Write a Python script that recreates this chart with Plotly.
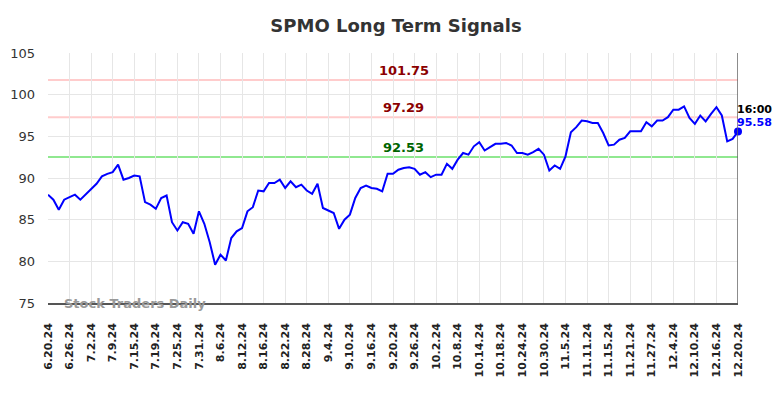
import plotly.graph_objects as go

tick_labels = ["6.20.24", "6.26.24", "7.2.24", "7.9.24", "7.15.24", "7.19.24", "7.25.24", "7.31.24",
               "8.6.24", "8.12.24", "8.16.24", "8.22.24", "8.28.24", "9.4.24", "9.10.24", "9.16.24",
               "9.20.24", "9.26.24", "10.2.24", "10.8.24", "10.14.24", "10.18.24", "10.24.24", "10.30.24",
               "11.5.24", "11.11.24", "11.15.24", "11.21.24", "11.27.24", "12.4.24", "12.10.24", "12.16.24",
               "12.20.24"]

prices = [88.0, 87.4, 86.2, 87.4, 87.7, 88.0, 87.4, 88.0, 88.6, 89.3,
          90.2, 90.5, 90.7, 91.6, 89.8, 90.0, 90.3, 90.2, 87.1, 86.8,
          86.3, 87.6, 87.9, 84.7, 83.7, 84.7, 84.5, 83.3, 86.0, 84.5,
          82.3, 79.6, 80.8, 80.1, 82.8, 83.6, 84.0, 86.0, 86.5, 88.5,
          88.4, 89.4, 89.4, 89.8, 88.8, 89.6, 88.9, 89.2, 88.5, 88.1,
          89.3, 86.4, 86.1, 85.8, 83.9, 85.0, 85.6, 87.6, 88.8, 89.1,
          88.8, 88.7, 88.4, 90.5, 90.5, 91.0, 91.2, 91.3, 91.1, 90.4,
          90.7, 90.1, 90.4, 90.4, 91.7, 91.1, 92.2, 93.0, 92.8, 93.8,
          94.3, 93.3, 93.7, 94.1, 94.1, 94.2, 93.9, 93.0, 93.0, 92.8,
          93.1, 93.5, 92.8, 90.9, 91.5, 91.1, 92.6, 95.5, 96.1, 96.9,
          96.8, 96.6, 96.6, 95.4, 93.9, 94.0, 94.6, 94.8, 95.6, 95.6,
          95.6, 96.7, 96.2, 96.9, 96.9, 97.3, 98.2, 98.2, 98.6, 97.2,
          96.5, 97.5, 96.8, 97.7, 98.5, 97.5, 94.4, 94.7, 95.58]

levels = [101.75, 97.29, 92.53]
level_line_colors = ["#ffcccc", "#ffcccc", "#90e890"]
level_text_colors = ["#8b0000", "#8b0000", "#006400"]
last_time = "16:00"

x = list(range(len(prices)))
tickvals = list(range(0, len(prices), 4))

fig = go.Figure()

for lv, lc in zip(levels, level_line_colors):
    fig.add_shape(type="line", xref="paper", x0=0, x1=1, yref="y", y0=lv, y1=lv,
                  line=dict(color=lc, width=2), layer="below")

fig.add_trace(go.Scatter(x=x, y=prices, mode="lines",
                         line=dict(color="#0000ff", width=2), hoverinfo="skip"))
fig.add_trace(go.Scatter(x=[x[-1]], y=[prices[-1]], mode="markers", cliponaxis=False,
                         marker=dict(color="#0000ff", size=8), hoverinfo="skip"))

for lv, tc in zip(levels, level_text_colors):
    fig.add_annotation(x=66, y=lv, text=f"<b>{lv:.2f}</b>", showarrow=False,
                       yanchor="bottom", yshift=0,
                       font=dict(color=tc, size=13, family="DejaVu Sans"))

fig.add_annotation(x=x[-1], y=prices[-1], text=f"<b>{last_time}</b>", showarrow=False,
                   xanchor="left", yanchor="bottom", xshift=-3, yshift=14,
                   font=dict(color="black", size=11, family="DejaVu Sans"))
fig.add_annotation(x=x[-1], y=prices[-1], text=f"<b>{prices[-1]:.2f}</b>", showarrow=False,
                   xanchor="left", yanchor="bottom", xshift=-3, yshift=1,
                   font=dict(color="#0000ff", size=11, family="DejaVu Sans"))

fig.add_shape(type="line", xref="x", x0=x[-1], x1=x[-1], yref="paper", y0=0, y1=1,
              line=dict(color="#666666", width=1.5))

fig.add_annotation(xref="paper", yref="paper", x=0.02, y=0.0, text="<b>Stock Traders Daily</b>",
                   showarrow=False, xanchor="left", yanchor="middle",
                   font=dict(color="#999999", size=13, family="DejaVu Sans"))

fig.update_layout(
    width=776, height=390,
    margin=dict(l=40, r=46, t=45, b=95, autoexpand=False),
    paper_bgcolor="white", plot_bgcolor="white",
    showlegend=False,
    title=dict(text="<b>SPMO Long Term Signals</b>", x=0.5, xanchor="center", y=0.955, yanchor="middle",
               font=dict(size=18, color="#333333", family="DejaVu Sans")),
    xaxis=dict(range=[0, len(prices) - 1], tickvals=tickvals,
               ticktext=[f"<b>{t}</b>" for t in tick_labels], tickangle=-90,
               showgrid=True, gridcolor="#e6e6e6", gridwidth=1,
               showline=True, linecolor="#555555", linewidth=1.5,
               ticks="", zeroline=False, automargin=False, ticklabelstandoff=14,
               tickfont=dict(size=11, color="#222222", family="DejaVu Sans")),
    yaxis=dict(range=[75, 105], tickvals=[75, 80, 85, 90, 95, 100, 105],
               showgrid=True, gridcolor="#e6e6e6", gridwidth=1,
               zeroline=False, ticks="", showline=False, automargin=False, ticklabelstandoff=12,
               tickfont=dict(size=13, color="#333333", family="DejaVu Sans")),
)

fig.write_html("out.html")
